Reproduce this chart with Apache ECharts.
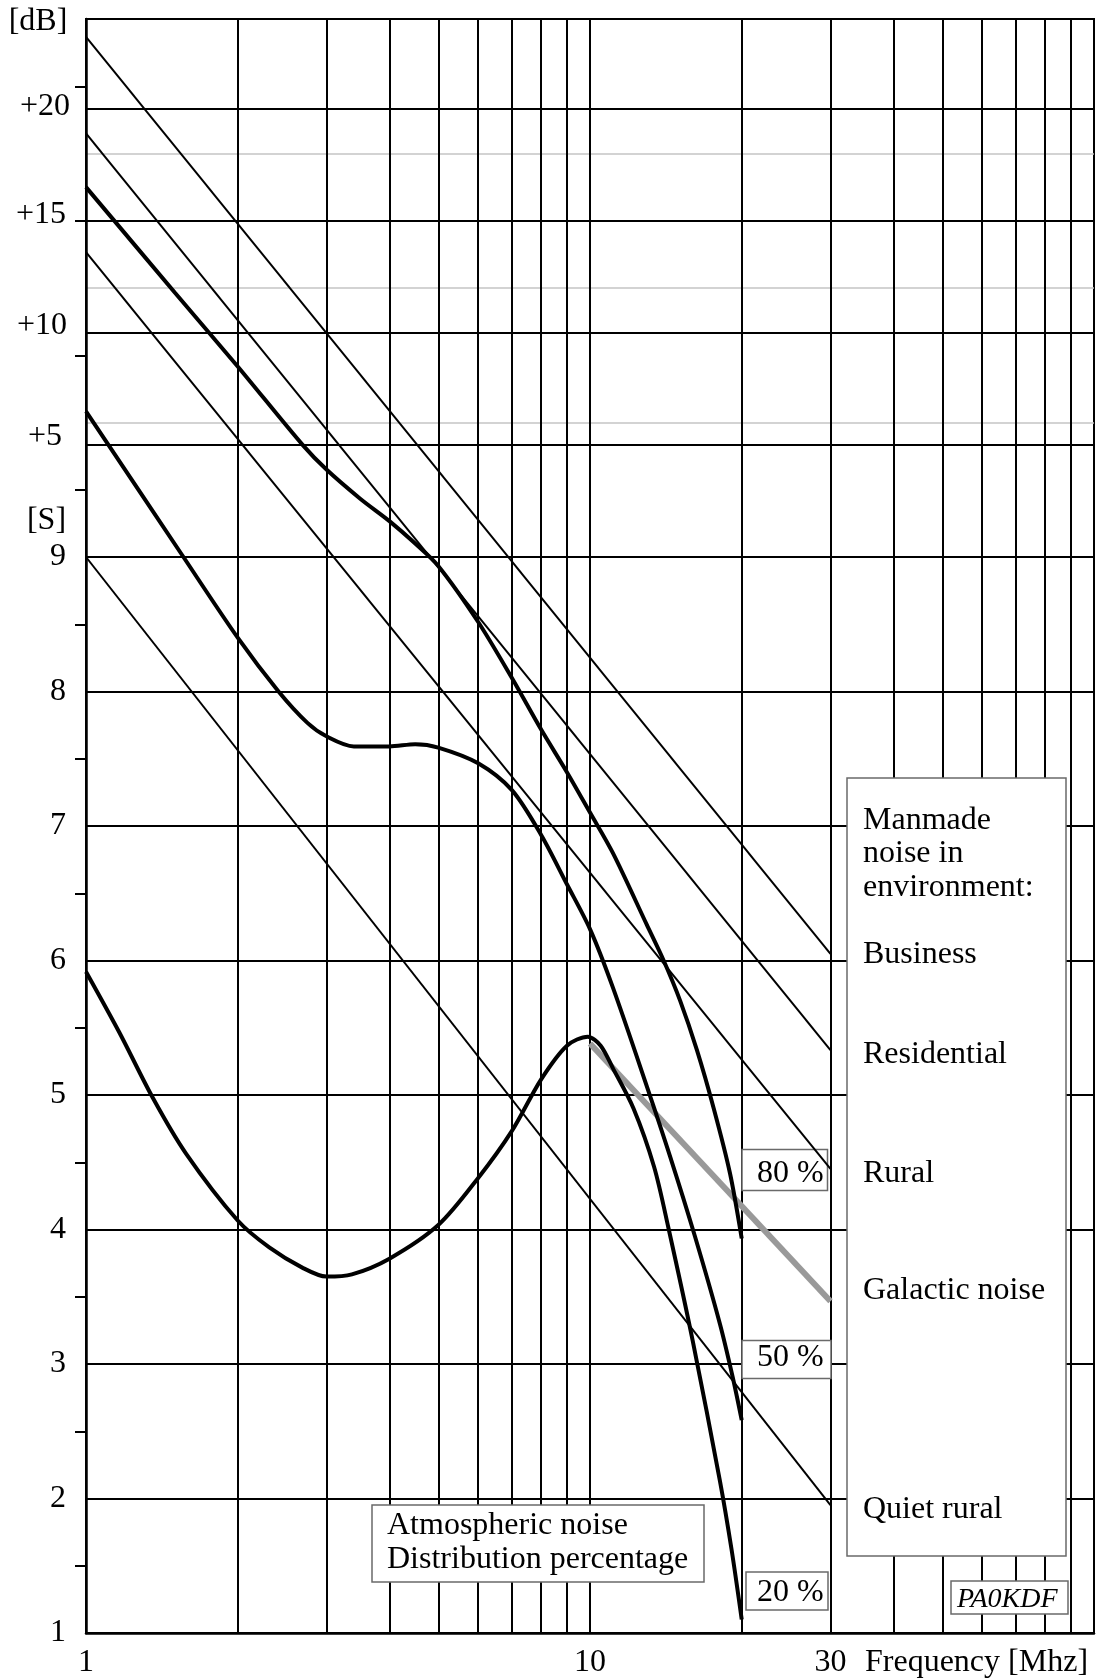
<!DOCTYPE html>
<html><head><meta charset="utf-8">
<script src="https://cdn.jsdelivr.net/npm/echarts@6/dist/echarts.min.js"></script>
<style>html,body{margin:0;padding:0;background:#fff}#c{width:1101px;height:1680px}</style>
</head><body><div id="c"></div>
<script>
// ---------- axes / grid values (y in dB relative to S9; 1 S-unit = 6 dB) ----------
const vGridFreqs = [2, 3, 4, 5, 6, 7, 8, 9, 10, 20, 30, 40, 50, 60, 70, 80, 90];
const hGridBlack = [-42, -36, -30, -24, -18, -12, -6, 0, 5, 10, 15, 20];
const hGridGray = [6, 12, 18];
const sLabelValues = [-48, -42, -36, -30, -24, -18, -12, -6, 0];
const halfSTicks = [-45, -39, -33, -27, -21, -15, -9, -3, 3, 9, 15, 21];
const xLabelValues = [1, 10, 30];

// ---------- manmade noise (straight lines) ----------
const business = [[1, 23.2], [30, -17.7]];
const residential = [[1, 18.9], [30, -22.0]];
const rural = [[1, 13.6], [30, -27.3]];
const quietRural = [[1, 0.0], [30, -42.3]];
// ---------- galactic noise ----------
const galactic = [[10, -21.7], [30, -33.2]];
// ---------- atmospheric noise ----------
const atmo80 = [[1, 16.5], [1.5, 11.8], [2, 8.5], [2.69, 5.0], [3, 3.9], [3.5, 2.6], [4, 1.6], [4.5, 0.6], [5, -0.4],
  [6, -2.9], [7, -5.4], [8, -7.7], [9, -9.6], [10, -11.4], [11.1, -13.2], [12.96, -16.4], [14, -18.0],
  [15.1, -19.8], [16.3, -22.0], [17.6, -24.6], [18.96, -27.5], [20, -30.4]];
const atmo50 = [[1, 6.5], [1.55, 0.1], [2, -3.6], [2.41, -6.0], [2.75, -7.4], [3, -8.0], [3.4, -8.45], [4, -8.45],
  [4.5, -8.35], [5, -8.5], [6, -9.2], [7, -10.4], [8, -12.4], [9, -14.6], [10, -16.6], [11.1, -19.2],
  [12.96, -23.6], [14.4, -26.7], [16.15, -30.3], [18.1, -34.2], [19.2, -36.6], [20, -38.5]];
const atmo20 = [[1, -18.5], [1.164, -21.2], [1.355, -24.1], [1.578, -26.6], [2, -29.6], [2.31, -30.8], [2.686, -31.7],
  [3, -32.1], [3.37, -32.0], [4, -31.3], [5, -29.8], [6, -27.7], [7, -25.6], [8, -23.3], [9, -21.8],
  [9.9, -21.4], [10.5, -21.8], [11.1, -22.8], [12.2, -24.6], [13.4, -27.2], [14.3, -29.9], [16, -35.0],
  [18.1, -41.2], [19.1, -44.3], [20, -47.4]];

const FONT = '"Liberation Serif", "Times New Roman", serif';
const chart = echarts.init(document.getElementById('c'), null, {renderer: 'canvas'});

function thin(data, name) {
  return {type: 'line', name, data, symbol: 'none', showSymbol: false, z: 3, silent: true,
    lineStyle: {color: '#000', width: 2}};
}
function thick(data, name) {
  return {type: 'line', name, data, symbol: 'none', showSymbol: false, z: 4, silent: true, smooth: 0.3,
    lineStyle: {color: '#000', width: 4, cap: 'butt'}};
}
function txt(x, y, text, opts) {
  return Object.assign({type: 'text', x, y, z: 10, silent: true,
    style: Object.assign({text, font: '32px ' + FONT, fill: '#000', textAlign: 'left', textVerticalAlign: 'middle'}, opts || {})});
}
function box(x, y, w, h, z) {
  return {type: 'rect', z: z || 2, silent: true, shape: {x, y, width: w, height: h},
    style: {fill: '#fff', stroke: '#6a6a6a', lineWidth: 1.5}};
}

const option = {
  animation: false,
  backgroundColor: '#fff',
  grid: {left: 86, top: 19, width: 1008, height: 1614, show: true, borderColor: '#000', borderWidth: 2,
    backgroundColor: 'transparent', containLabel: false, outerBoundsMode: 'none'},
  xAxis: {type: 'log', logBase: 10, min: 1, max: 100,
    axisLine: {show: true, onZero: false, lineStyle: {color: '#000', width: 2.5}},
    axisTick: {show: false}, splitLine: {show: false}, minorTick: {show: false}, minorSplitLine: {show: false},
    axisLabel: {show: true, customValues: xLabelValues, formatter: v => String(v), color: '#000',
      fontFamily: FONT, fontSize: 32, margin: 14, hideOverlap: false, showMinLabel: true, showMaxLabel: true}},
  yAxis: {type: 'value', min: -48, max: 24,
    axisLine: {show: true, onZero: false, lineStyle: {color: '#000', width: 2.5}},
    axisTick: {show: true, customValues: halfSTicks, length: 11, inside: false, lineStyle: {color: '#000', width: 2}},
    splitLine: {show: false}, minorTick: {show: false},
    axisLabel: {show: true, customValues: sLabelValues, formatter: v => String(Math.round(v / 6 + 9)),
      color: '#000', fontFamily: FONT, fontSize: 32, margin: 20, hideOverlap: false, padding: [7, 0, 0, 0]}},
  series: [
    {type: 'line', name: 'gridBlack', data: [[1, -48]], symbol: 'none', lineStyle: {width: 0}, z: 1, silent: true,
      markLine: {silent: true, symbol: ['none', 'none'], z: 1, animation: false, label: {show: false},
        emphasis: {disabled: true}, lineStyle: {color: '#000', width: 2, type: 'solid'},
        data: vGridFreqs.map(f => ({xAxis: f})).concat(hGridBlack.map(v => ({yAxis: v})))}},
    {type: 'line', name: 'gridGray', data: [[1, -48]], symbol: 'none', lineStyle: {width: 0}, z: 1, silent: true,
      markLine: {silent: true, symbol: ['none', 'none'], z: 0, animation: false, label: {show: false},
        emphasis: {disabled: true}, lineStyle: {color: '#c4c4c4', width: 1.5, type: 'solid'},
        data: hGridGray.map(v => ({yAxis: v}))}},
    thin(business, 'Business'),
    thin(residential, 'Residential'),
    thin(rural, 'Rural'),
    thin(quietRural, 'Quiet rural'),
    {type: 'line', name: 'Galactic noise', data: galactic, symbol: 'none', z: 3, silent: true,
      lineStyle: {color: '#999', width: 6, cap: 'butt'}},
    thick(atmo80, '80 %'),
    thick(atmo50, '50 %'),
    thick(atmo20, '20 %')
  ],
  graphic: {elements: [
    // axis unit labels
    txt(38, 22, '[dB]', {textAlign: 'center'}),
    txt(45, 107, '+20', {textAlign: 'center'}),
    txt(41, 215, '+15', {textAlign: 'center'}),
    txt(42, 326, '+10', {textAlign: 'center'}),
    txt(45, 437, '+5', {textAlign: 'center'}),
    txt(46.5, 521, '[S]', {textAlign: 'center'}),
    txt(865, 1662.5, 'Frequency [Mhz]'),
    // legend box
    box(847, 778, 219, 778, 6),
    txt(863, 820.5, 'Manmade'),
    txt(863, 853.5, 'noise in'),
    txt(863, 887.5, 'environment:'),
    txt(863, 954.5, 'Business'),
    txt(863, 1054.5, 'Residential'),
    txt(863, 1173.5, 'Rural'),
    txt(863, 1290.5, 'Galactic noise'),
    txt(863, 1509.5, 'Quiet rural'),
    // percentage boxes
    box(742, 1149.5, 85.5, 41),
    txt(757, 1173.5, '80 %'),
    box(742, 1340.5, 89, 38),
    txt(757, 1357.5, '50 %'),
    box(746, 1572, 82, 38),
    txt(757, 1592.5, '20 %'),
    box(372, 1505, 332, 77),
    txt(387, 1525.5, 'Atmospheric noise'),
    txt(387, 1559.5, 'Distribution percentage'),
    box(951, 1581, 117, 33, 6),
    txt(957, 1600, 'PA0KDF', {font: 'italic 28px ' + FONT})
  ]}
};
chart.setOption(option);
</script>
</body></html>
